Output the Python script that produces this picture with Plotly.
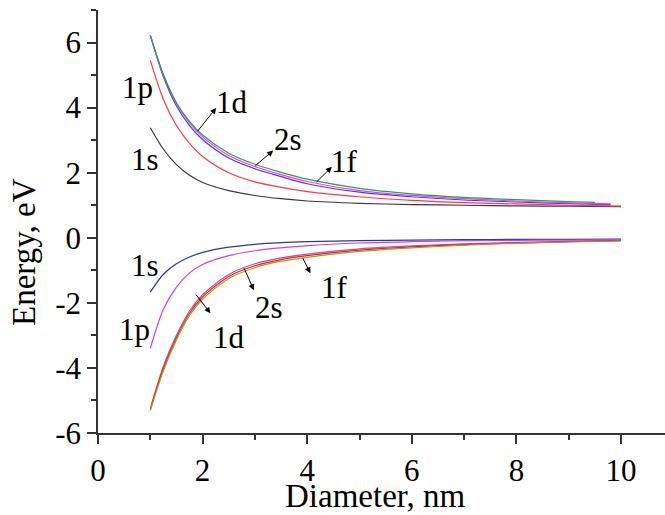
import plotly.graph_objects as go

# Diameter grid (nm)
x_full = [1, 1.25, 1.5, 1.75, 2, 2.5, 3, 3.5, 4, 5, 6, 7, 8, 9, 10]

# Conduction-band levels (eV)
cb_1s = [3.38, 2.72, 2.25, 1.92, 1.70, 1.45, 1.30, 1.20, 1.13, 1.06, 1.02, 1.00, 0.98, 0.97, 0.96]
cb_1p = [5.45, 4.25, 3.45, 2.90, 2.50, 2.00, 1.72, 1.55, 1.42, 1.26, 1.15, 1.08, 1.04, 1.00, 0.97]
x_cb_1d = [1, 1.25, 1.5, 1.75, 2, 2.5, 3, 3.5, 4, 5, 6, 7, 8, 9, 9.8]
cb_1d = [6.22, 4.95, 4.05, 3.45, 3.02, 2.45, 2.12, 1.88, 1.66, 1.40, 1.26, 1.16, 1.10, 1.05, 1.02]
x_cb_2s = [1, 1.25, 1.5, 1.75, 2, 2.5, 3, 3.5, 4, 5, 6, 7, 8, 9, 9.8]
cb_2s = [6.22, 5.00, 4.12, 3.53, 3.10, 2.53, 2.19, 1.94, 1.73, 1.45, 1.30, 1.20, 1.13, 1.07, 1.04]
x_cb_1f = [1, 1.25, 1.5, 1.75, 2, 2.5, 3, 3.5, 4, 5, 6, 7, 8, 9, 9.5]
cb_1f = [6.22, 5.02, 4.15, 3.58, 3.16, 2.60, 2.26, 2.01, 1.80, 1.52, 1.35, 1.24, 1.17, 1.11, 1.09]

# Valence-band levels (eV)
vb_1s = [-1.67, -1.12, -0.80, -0.59, -0.45, -0.29, -0.20, -0.15, -0.12, -0.09, -0.07, -0.06, -0.05, -0.05, -0.04]
vb_1p = [-3.40, -2.20, -1.52, -1.08, -0.82, -0.55, -0.40, -0.31, -0.24, -0.16, -0.12, -0.09, -0.08, -0.07, -0.06]
vb_1d = [-5.25, -3.95, -3.00, -2.25, -1.75, -1.13, -0.80, -0.62, -0.50, -0.34, -0.25, -0.19, -0.14, -0.11, -0.08]
vb_2s = [-5.28, -4.02, -3.07, -2.32, -1.82, -1.19, -0.86, -0.67, -0.55, -0.38, -0.28, -0.21, -0.16, -0.12, -0.09]
vb_1f = [-5.31, -4.09, -3.14, -2.39, -1.89, -1.25, -0.92, -0.72, -0.60, -0.42, -0.31, -0.23, -0.17, -0.13, -0.10]

x_ticks = [0, 2, 4, 6, 8, 10]
y_ticks = [-6, -4, -2, 0, 2, 4, 6]

series = [
    (x_full, cb_1s, "#3a3a3a"),
    (x_full, cb_1p, "#ff3b3b"),
    (x_cb_1d, cb_1d, "#3b3bff"),
    (x_cb_2s, cb_2s, "#ff33ff"),
    (x_cb_1f, cb_1f, "#2e9e4a"),
    (x_full, vb_1s, "#34349a"),
    (x_full, vb_1p, "#c040ff"),
    (x_full, vb_1d, "#e0409a"),
    (x_full, vb_2s, "#cc2a2a"),
    (x_full, vb_1f, "#a0a020"),
]

fig = go.Figure()
for xs, ys, c in series:
    fig.add_trace(go.Scatter(x=xs, y=ys, mode="lines", line=dict(color=c, width=1.2, shape="spline", smoothing=0.8),
                             showlegend=False, hoverinfo="skip"))

FONT = "Liberation Serif"

# labels: (text, x, y)
labels = [
    ("1p", 0.75, 4.62), ("1s", 0.90, 2.40), ("1d", 2.57, 4.15), ("2s", 3.64, 3.02), ("1f", 4.71, 2.33),
    ("1s", 0.89, -0.86), ("1p", 0.70, -2.82), ("1d", 2.51, -3.08), ("2s", 3.26, -2.15), ("1f", 4.52, -1.53),
]
for t, lx, ly in labels:
    fig.add_annotation(x=lx, y=ly, text=t, showarrow=False, font=dict(family=FONT, size=31, color="black"),
                       xanchor="center", yanchor="middle")

# arrows: tail (on curve) -> head (near label)
arrows = [
    (1.88, 3.23, 2.26, 3.99),
    (2.98, 2.18, 3.35, 2.68),
    (4.15, 1.67, 4.47, 2.18),
    (1.85, -1.70, 2.15, -2.32),
    (2.78, -0.89, 2.98, -1.61),
    (3.90, -0.58, 4.06, -1.09),
]
for tx, ty, hx, hy in arrows:
    fig.add_annotation(x=hx, y=hy, ax=tx, ay=ty, xref="x", yref="y", axref="x", ayref="y", text="",
                       showarrow=True, arrowhead=2, arrowsize=1.2, arrowwidth=1, arrowcolor="black")

fig.add_annotation(x=-0.1305, y=0.428, xref="paper", yref="paper", text="Energy, eV", textangle=-90,
                   xanchor="center", yanchor="middle",
                   showarrow=False, font=dict(family=FONT, size=33, color="black"))
fig.add_annotation(x=0.4885, y=-0.150, xref="paper", yref="paper", text="Diameter, nm",
                   xanchor="center", yanchor="middle",
                   showarrow=False, font=dict(family=FONT, size=33, color="black"))

axis_common = dict(showline=True, linecolor="#333", linewidth=1.5, ticks="outside", ticklen=9, tickwidth=1.5,
                   tickcolor="#333", showgrid=False, zeroline=False,
                   tickfont=dict(family=FONT, size=31, color="black"))
fig.update_xaxes(range=[0, 10.84], tickvals=x_ticks, ticktext=[str(v) for v in x_ticks],
                 minor=dict(dtick=1, tick0=0, ticks="outside", ticklen=5, tickwidth=1.5, tickcolor="#333"),
                 **axis_common)
fig.update_yaxes(range=[-6, 7], tickvals=y_ticks, ticktext=[str(v) for v in y_ticks],
                 minor=dict(dtick=1, tick0=0, ticks="outside", ticklen=5, tickwidth=1.5, tickcolor="#333"),
                 **axis_common)
fig.update_layout(width=665, height=515, margin=dict(l=98, r=0, t=10, b=82),
                  plot_bgcolor="white", paper_bgcolor="white", showlegend=False)
fig.write_html("out.html")
